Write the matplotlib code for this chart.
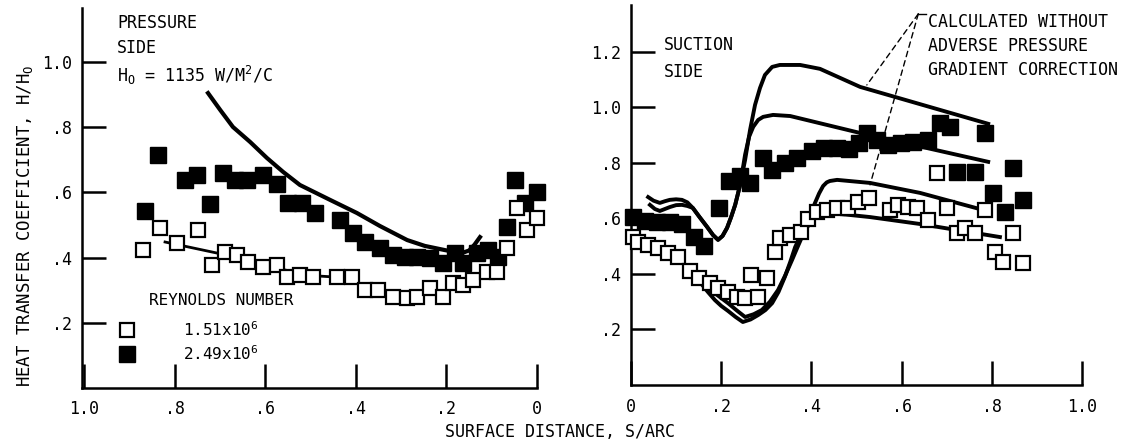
import numpy as np
import matplotlib.pyplot as plt

plt.rcParams['font.family'] = 'DejaVu Sans Mono'
plt.rcParams['mathtext.fontset'] = 'custom'
plt.rcParams['mathtext.rm'] = 'DejaVu Sans Mono'

# ---- pressure side (left), x is S/arc measured from leading edge ----
ps_low_x = [0.871, 0.833, 0.796, 0.749, 0.718, 0.690, 0.663, 0.639, 0.606, 0.575,
            0.552, 0.524, 0.495, 0.442, 0.409, 0.380, 0.351, 0.318, 0.287, 0.265,
            0.236, 0.208, 0.186, 0.164, 0.141, 0.110, 0.088, 0.066, 0.044, 0.022, 0.0]
ps_low_y = [0.423, 0.491, 0.445, 0.485, 0.377, 0.417, 0.408, 0.387, 0.371, 0.377,
            0.340, 0.347, 0.340, 0.340, 0.340, 0.301, 0.301, 0.279, 0.276, 0.279,
            0.307, 0.279, 0.322, 0.316, 0.331, 0.356, 0.356, 0.429, 0.552, 0.485, 0.521]

ps_high_x = [0.866, 0.838, 0.778, 0.751, 0.723, 0.694, 0.667, 0.641, 0.606, 0.575,
             0.550, 0.519, 0.491, 0.435, 0.407, 0.380, 0.347, 0.318, 0.292, 0.265,
             0.236, 0.208, 0.181, 0.164, 0.133, 0.108, 0.086, 0.066, 0.049, 0.027, 0.0]
ps_high_y = [0.543, 0.715, 0.638, 0.653, 0.564, 0.660, 0.638, 0.638, 0.653, 0.626,
             0.567, 0.567, 0.537, 0.515, 0.475, 0.448, 0.429, 0.408, 0.402, 0.402,
             0.399, 0.383, 0.414, 0.383, 0.414, 0.423, 0.402, 0.494, 0.638, 0.567, 0.601]

ps_calc_x = [0.727, 0.700, 0.672, 0.634, 0.597, 0.561, 0.524, 0.457, 0.398, 0.347,
             0.287, 0.248, 0.203, 0.180, 0.166, 0.150, 0.138, 0.126]
ps_calc_y = [0.905, 0.853, 0.801, 0.755, 0.706, 0.663, 0.623, 0.577, 0.537, 0.497,
             0.454, 0.436, 0.423, 0.417, 0.414, 0.422, 0.440, 0.463]

ps_fit_x = [0.822, 0.707, 0.60, 0.50, 0.44]
ps_fit_y = [0.448, 0.414, 0.375, 0.345, 0.340]

# ---- suction side (right) ----
ss_low_x = [0.005, 0.016, 0.038, 0.060, 0.082, 0.104, 0.131, 0.151, 0.175, 0.193,
            0.215, 0.235, 0.253, 0.282, 0.266, 0.302, 0.319, 0.330, 0.353, 0.377,
            0.392, 0.412, 0.435, 0.457, 0.481, 0.503, 0.528, 0.574, 0.592, 0.614,
            0.634, 0.659, 0.678, 0.701, 0.723, 0.741, 0.763, 0.785, 0.807, 0.825,
            0.847, 0.869]
ss_low_y = [0.533, 0.515, 0.505, 0.494, 0.476, 0.461, 0.411, 0.386, 0.368, 0.350,
            0.335, 0.317, 0.314, 0.317, 0.396, 0.386, 0.479, 0.530, 0.541, 0.551,
            0.598, 0.623, 0.631, 0.638, 0.638, 0.659, 0.674, 0.631, 0.649, 0.641,
            0.638, 0.595, 0.764, 0.638, 0.548, 0.566, 0.548, 0.631, 0.479, 0.443,
            0.548, 0.440]

ss_high_x = [0.004, 0.031, 0.058, 0.086, 0.113, 0.140, 0.162, 0.195, 0.217, 0.242,
             0.264, 0.293, 0.313, 0.341, 0.368, 0.401, 0.428, 0.457, 0.483, 0.506,
             0.523, 0.545, 0.570, 0.599, 0.625, 0.659, 0.685, 0.707, 0.723, 0.763,
             0.785, 0.803, 0.829, 0.847, 0.869]
ss_high_y = [0.605, 0.591, 0.587, 0.587, 0.580, 0.533, 0.501, 0.638, 0.735, 0.753,
             0.728, 0.818, 0.775, 0.800, 0.818, 0.843, 0.854, 0.854, 0.850, 0.872,
             0.908, 0.883, 0.865, 0.872, 0.876, 0.883, 0.944, 0.930, 0.768, 0.768,
             0.908, 0.692, 0.623, 0.782, 0.667]

# calculated without adverse pressure gradient correction
ss_nocorr_a_x = [0.038, 0.050, 0.064, 0.075, 0.086, 0.100, 0.113, 0.125, 0.137, 0.152,
                 0.169, 0.182, 0.193, 0.203, 0.213, 0.222, 0.231, 0.242, 0.253, 0.264,
                 0.275, 0.286, 0.297, 0.313, 0.330, 0.375, 0.419, 0.508, 0.792]
ss_nocorr_a_y = [0.677, 0.664, 0.656, 0.662, 0.667, 0.669, 0.667, 0.658, 0.638, 0.605,
                 0.569, 0.540, 0.523, 0.537, 0.566, 0.605, 0.649, 0.721, 0.811, 0.919,
                 1.009, 1.070, 1.117, 1.146, 1.153, 1.153, 1.139, 1.074, 0.941]
ss_nocorr_b_x = [0.042, 0.053, 0.064, 0.075, 0.086, 0.100, 0.113, 0.125, 0.137, 0.152,
                 0.169, 0.182, 0.193, 0.203, 0.213, 0.222, 0.231, 0.242, 0.253, 0.262,
                 0.271, 0.282, 0.293, 0.315, 0.353, 0.508, 0.792]
ss_nocorr_b_y = [0.649, 0.634, 0.627, 0.634, 0.641, 0.648, 0.649, 0.645, 0.638, 0.605,
                 0.569, 0.540, 0.523, 0.537, 0.566, 0.605, 0.649, 0.721, 0.830, 0.895,
                 0.930, 0.955, 0.966, 0.973, 0.969, 0.908, 0.804]

# calculated with correction
ss_corr_a_x = [0.153, 0.170, 0.186, 0.200, 0.215, 0.232, 0.248, 0.265, 0.282, 0.298,
               0.313, 0.327, 0.341, 0.353, 0.364, 0.375, 0.386, 0.397, 0.408, 0.417,
               0.426, 0.434, 0.441, 0.457, 0.530, 0.641, 0.780]
ss_corr_a_y = [0.371, 0.336, 0.306, 0.285, 0.267, 0.245, 0.227, 0.236, 0.252, 0.270,
               0.295, 0.335, 0.389, 0.443, 0.497, 0.535, 0.569, 0.612, 0.656, 0.690,
               0.717, 0.730, 0.735, 0.739, 0.728, 0.692, 0.631]
ss_corr_b_x = [0.160, 0.188, 0.215, 0.235, 0.253, 0.272, 0.290, 0.308, 0.326, 0.342,
               0.357, 0.368, 0.379, 0.390, 0.401, 0.412, 0.424, 0.530, 0.641, 0.818]
ss_corr_b_y = [0.364, 0.328, 0.295, 0.268, 0.245, 0.255, 0.270, 0.300, 0.342, 0.395,
               0.450, 0.492, 0.533, 0.566, 0.595, 0.612, 0.623, 0.605, 0.580, 0.533]

fig = plt.figure(figsize=(11.24, 4.47), dpi=100)
W, H = 1124, 447
ax1 = fig.add_axes([82 / W, (H - 388) / H, 455 / W, 380 / H])
ax2 = fig.add_axes([631 / W, (H - 385) / H, 451 / W, 380 / H])

open_kw = dict(ls='none', marker='s', ms=10, mfc='white', mec='black', mew=1.6,
               zorder=4, clip_on=False)
fill_kw = dict(ls='none', marker='s', ms=11, mfc='black', mec='black', mew=1,
               zorder=3, clip_on=False)

# left panel
ax1.plot(ps_calc_x, ps_calc_y, color='black', lw=3, zorder=2, solid_joinstyle='round')
ax1.plot(ps_fit_x, ps_fit_y, color='black', lw=2, zorder=2)
h_open, = ax1.plot(ps_low_x, ps_low_y, **open_kw)
h_fill, = ax1.plot(ps_high_x, ps_high_y, **fill_kw)

# right panel
for xs, ys in [(ss_nocorr_a_x, ss_nocorr_a_y), (ss_nocorr_b_x, ss_nocorr_b_y),
               (ss_corr_a_x, ss_corr_a_y), (ss_corr_b_x, ss_corr_b_y)]:
    ax2.plot(xs, ys, color='black', lw=2.8, zorder=2, solid_joinstyle='round')
ax2.plot(ss_low_x, ss_low_y, **open_kw)
ax2.plot(ss_high_x, ss_high_y, **fill_kw)

for ax in (ax1, ax2):
    for s in ('top', 'right'):
        ax.spines[s].set_visible(False)
    for s in ('left', 'bottom'):
        ax.spines[s].set_linewidth(1.8)
    ax.tick_params(direction='in', length=17, width=1.8, labelsize=12)
    ax.tick_params(axis='y', pad=7)
    ax.tick_params(axis='x', pad=9)

ax1.set_xlim(1.0055, 0)
ax1.set_ylim(0, 1.166)
ax1.set_xticks([1.0, 0.8, 0.6, 0.4, 0.2, 0.0])
ax1.set_xticklabels(['1.0', '.8', '.6', '.4', '.2', '0'])
ax1.set_yticks([0.2, 0.4, 0.6, 0.8, 1.0])
ax1.set_yticklabels(['.2', '.4', '.6', '.8', '1.0'])

ax2.set_xlim(0, 1.0)
ax2.set_ylim(0, 1.369)
ax2.set_xticks([0.0, 0.2, 0.4, 0.6, 0.8, 1.0])
ax2.set_xticklabels(['0', '.2', '.4', '.6', '.8', '1.0'])
ax2.set_yticks([0.2, 0.4, 0.6, 0.8, 1.0, 1.2])
ax2.set_yticklabels(['.2', '.4', '.6', '.8', '1.0', '1.2'])

# texts
ax1.text(0.928, 1.12, 'PRESSURE', fontsize=12, va='center', ha='left')
ax1.text(0.928, 1.043, 'SIDE', fontsize=12, va='center', ha='left')
ax1.text(0.928, 0.96, 'H$_\\mathregular{O}$ = 1135 W/M$^\\mathregular{2}$/C',
         fontsize=12, va='center', ha='left')
ax1.text(0.857, 0.268, 'REYNOLDS NUMBER', fontsize=11.5, va='center', ha='left')
ax1.legend([h_open, h_fill],
           ['1.51x10$^\\mathregular{6}$', '2.49x10$^\\mathregular{6}$'],
           loc='upper left', bbox_to_anchor=(119 / W, 1 - 320 / H),
           bbox_transform=fig.transFigure, frameon=False, fontsize=11.5,
           handlelength=1.0, handletextpad=3.0, labelspacing=0.35,
           borderpad=0, borderaxespad=0)

ax2.text(0.073, 1.225, 'SUCTION', fontsize=12, va='center', ha='left')
ax2.text(0.073, 1.128, 'SIDE', fontsize=12, va='center', ha='left')
ax2.text(0.659, 1.341, 'CALCULATED WITHOUT\nADVERSE PRESSURE\nGRADIENT CORRECTION',
         fontsize=12, va='top', ha='left', linespacing=1.45, clip_on=False)
for end in [(0.523, 1.081), (0.530, 0.721)]:
    ax2.annotate('', xy=end, xytext=(0.637, 1.337),
                 arrowprops=dict(arrowstyle='-', linestyle=(0, (4, 3)), lw=1,
                                 color='black', shrinkA=0, shrinkB=0),
                 annotation_clip=False)
ax2.plot([0.637, 0.655], [1.337, 1.337], color='black', lw=1, clip_on=False)

fig.text(560 / W, 1 - 432 / H, 'SURFACE DISTANCE, S/ARC', fontsize=12,
         ha='center', va='center')
fig.text(25 / W, 1 - 226 / H, 'HEAT TRANSFER COEFFICIENT, H/H$_\\mathregular{O}$',
         fontsize=12.5, rotation=90, ha='center', va='center')

fig.savefig('out.png', dpi=100)
